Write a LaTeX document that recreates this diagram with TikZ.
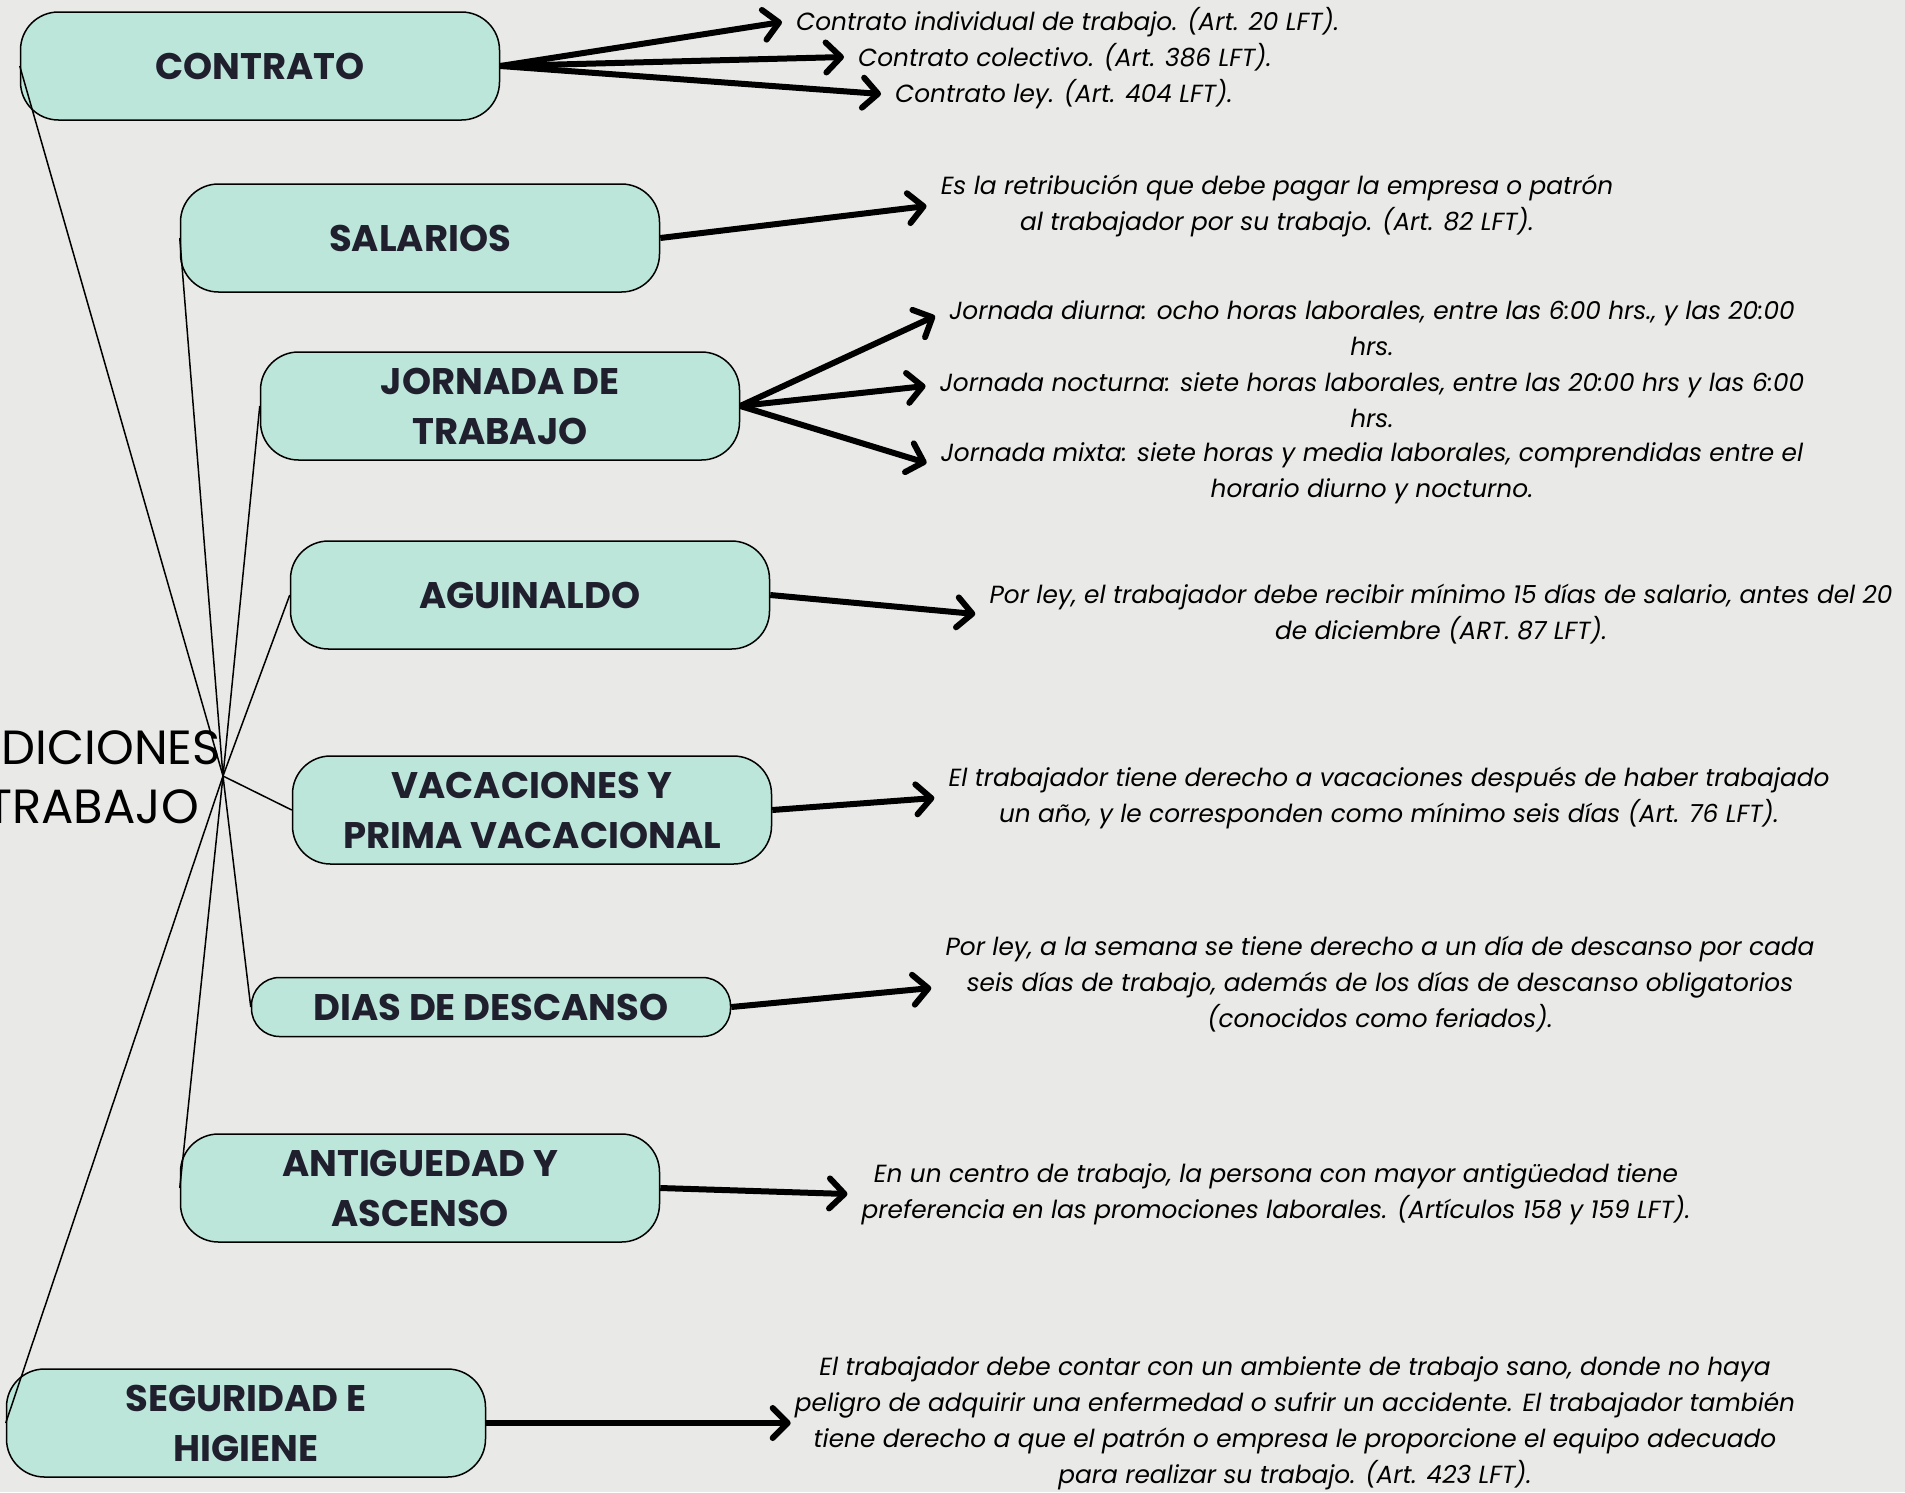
\documentclass[tikz,border=0pt]{standalone}
\usepackage{fontspec}
\setmainfont{Poppins}
\usetikzlibrary{positioning, arrows.meta}
\definecolor{mint}{RGB}{189,230,218}
\definecolor{ink}{RGB}{31,31,46}
\definecolor{paper}{RGB}{233,233,231}

\begin{document}
\begin{tikzpicture}[x=1pt,y=-1pt,
    big arrow/.style={line width=6pt,-{Straight Barb[length=15pt,width=30pt,round]}},
    link/.style={line width=1.5pt},
    topic/.style={draw,line width=1.5pt,fill=mint,rounded corners=38pt,minimum width=479pt,
      minimum height=108pt,align=center,text=ink,font=\fontsize{37}{50}\selectfont\bfseries},
    desc/.style={align=center,inner sep=14pt,font=\fontsize{24.8}{36}\selectfont\itshape}]

\fill[paper] (0,0) rectangle (1905,1492);
\useasboundingbox (0,0) rectangle (1905,1492);

% tema central, cortado por el borde
\node[font=\fontsize{48}{59}\selectfont,align=center] (titulo) at (57,777) {CONDICIONES\\DE TRABAJO};
\coordinate (hub) at (223,776);

\node[topic] (contrato)   at (260,66)   {CONTRATO};
\node[topic] (salarios)   at (420,238)  {SALARIOS};
\node[topic] (jornada)    at (500,406)  {JORNADA DE\\TRABAJO};
\node[topic] (aguinaldo)  at (530,595)  {AGUINALDO};
\node[topic] (vacaciones) at (532,810)  {VACACIONES Y\\PRIMA VACACIONAL};
\node[topic,minimum height=59pt,rounded corners=28pt] (descanso) at (491,1007) {DIAS DE DESCANSO};
\node[topic] (antiguedad) at (420,1188) {ANTIGUEDAD Y\\ASCENSO};
\node[topic] (seguridad)  at (246,1423) {SEGURIDAD E\\HIGIENE};

\foreach \t in {contrato,salarios,jornada,aguinaldo,vacaciones,descanso,antiguedad,seguridad}
  \draw[link] (hub) -- (\t.west);

% descripciones
\node[desc,anchor=west] (c1) at (782,22) {Contrato individual de trabajo. (Art. 20 LFT).};
\node[desc,anchor=west] (c2) at (844,57) {Contrato colectivo. (Art. 386 LFT).};
\node[desc,anchor=west] (c3) at (881,94) {Contrato ley. (Art. 404 LFT).};
\node[desc] (sal) at (1277,206) {Es la retribución que debe pagar la empresa o patrón\\al trabajador por su trabajo. (Art. 82 LFT).};
\node[desc] (j1) at (1372,328) {Jornada diurna: ocho horas laborales, entre las 6:00 hrs., y las 20:00\\hrs.};
\node[desc] (j2) at (1372,400) {Jornada nocturna: siete horas laborales, entre las 20:00 hrs y las 6:00\\hrs.};
\node[desc] (j3) at (1372,473) {Jornada mixta: siete horas y media laborales, comprendidas entre el\\horario diurno y nocturno.};
\node[desc] (agu) at (1441,614) {Por ley, el trabajador debe recibir mínimo 15 días de salario, antes del 20\\de diciembre (ART. 87 LFT).};
\node[desc] (vac) at (1389,798) {El trabajador tiene derecho a vacaciones después de haber trabajado\\un año, y le corresponden como mínimo seis días (Art. 76 LFT).};
\node[desc] (des) at (1380,984) {Por ley, a la semana se tiene derecho a un día de descanso por cada\\seis días de trabajo, además de los días de descanso obligatorios\\(conocidos como feriados).};
\node[desc] (ant) at (1276,1194) {En un centro de trabajo, la persona con mayor antigüedad tiene\\preferencia en las promociones laborales. (Artículos 158 y 159 LFT).};
\node[desc] (seg) at (1295,1423) {El trabajador debe contar con un ambiente de trabajo sano, donde no haya\\peligro de adquirir una enfermedad o sufrir un accidente. El trabajador también\\tiene derecho a que el patrón o empresa le proporcione el equipo adecuado\\para realizar su trabajo. (Art. 423 LFT).};

\draw[big arrow] (contrato.east) -- (c1.west);
\draw[big arrow] (contrato.east) -- (c2.west);
\draw[big arrow] (contrato.east) -- (c3.west);
\draw[big arrow] (salarios.east) -- (sal.west);
\draw[big arrow] (jornada.east) -- ([yshift=12pt]j1.west);
\draw[big arrow] (jornada.east) -- ([yshift=14pt]j2.west);
\draw[big arrow] (jornada.east) -- ([yshift=10pt]j3.west);
\draw[big arrow] (aguinaldo.east) -- (agu.west);
\draw[big arrow] (vacaciones.east) -- (vac.west);
\draw[big arrow] (descanso.east) -- ([yshift=-4pt]des.west);
\draw[big arrow] (antiguedad.east) -- (ant.west);
\draw[big arrow] (seguridad.east) -- ([xshift=10pt]seg.west);
\end{tikzpicture}
\end{document}
